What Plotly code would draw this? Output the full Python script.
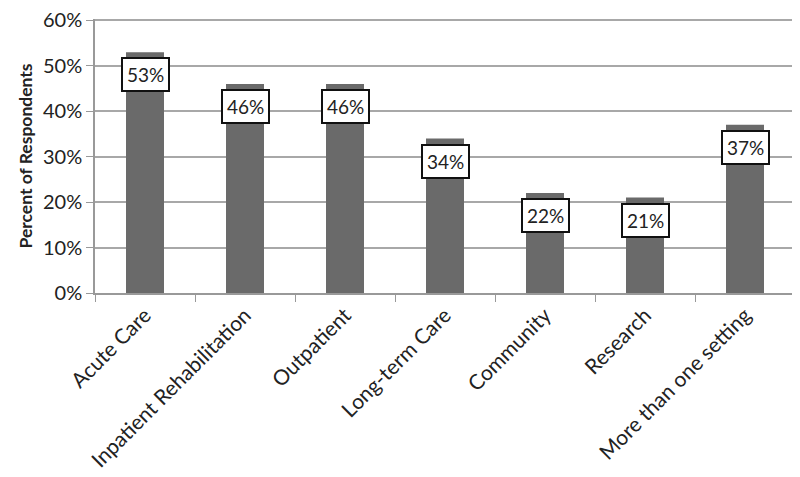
import plotly.graph_objects as go

settings = ["Acute Care", "Inpatient Rehabilitation", "Outpatient", "Long-term Care",
            "Community", "Research", "More than one setting"]
percent = [53, 46, 46, 34, 22, 21, 37]
y_ticks = [0, 10, 20, 30, 40, 50, 60]
y_labels = [f"{v}%" for v in y_ticks]

FONT = "Lato, 'Open Sans', sans-serif"

fig = go.Figure()
fig.add_trace(go.Bar(x=settings, y=percent, marker_color="#6a6a6a", marker_line_width=0))

# boxed value labels sitting just inside the top of each bar
for s, p in zip(settings, percent):
    fig.add_annotation(
        x=s, y=p, text=f"{p}%", showarrow=False,
        yanchor="top", yshift=-5,
        font=dict(family=FONT, size=19, color="#222"),
        bgcolor="white", bordercolor="#111", borderwidth=2, borderpad=4,
    )

# page has an 8px body margin, so offsets are compensated here
fig.update_layout(
    width=800, height=477,
    margin=dict(l=87, r=13, t=11, b=192),
    plot_bgcolor="white", paper_bgcolor="white",
    bargap=0.62, showlegend=False,
    font=dict(family=FONT, color="#222"),
)
fig.update_xaxes(
    tickangle=-45, tickfont=dict(size=21), tickson="boundaries",
    ticks="outside", ticklen=7, tickcolor="#999", automargin=False,
    showline=True, linecolor="#999", linewidth=1.5,
)
fig.update_yaxes(
    range=[0, 60.3], tickvals=y_ticks, ticktext=y_labels, automargin=False,
    ticklabeloverflow="allow",
    tickfont=dict(size=20), ticks="outside", ticklen=7, tickcolor="#999",
    showline=True, linecolor="#999", linewidth=1.5,
    showgrid=True, gridcolor="#a8a8a8", gridwidth=1.5,
    title=dict(text="<b>Percent of Respondents</b>", font=dict(size=17.5), standoff=6),
)

fig.write_html("out.html")
